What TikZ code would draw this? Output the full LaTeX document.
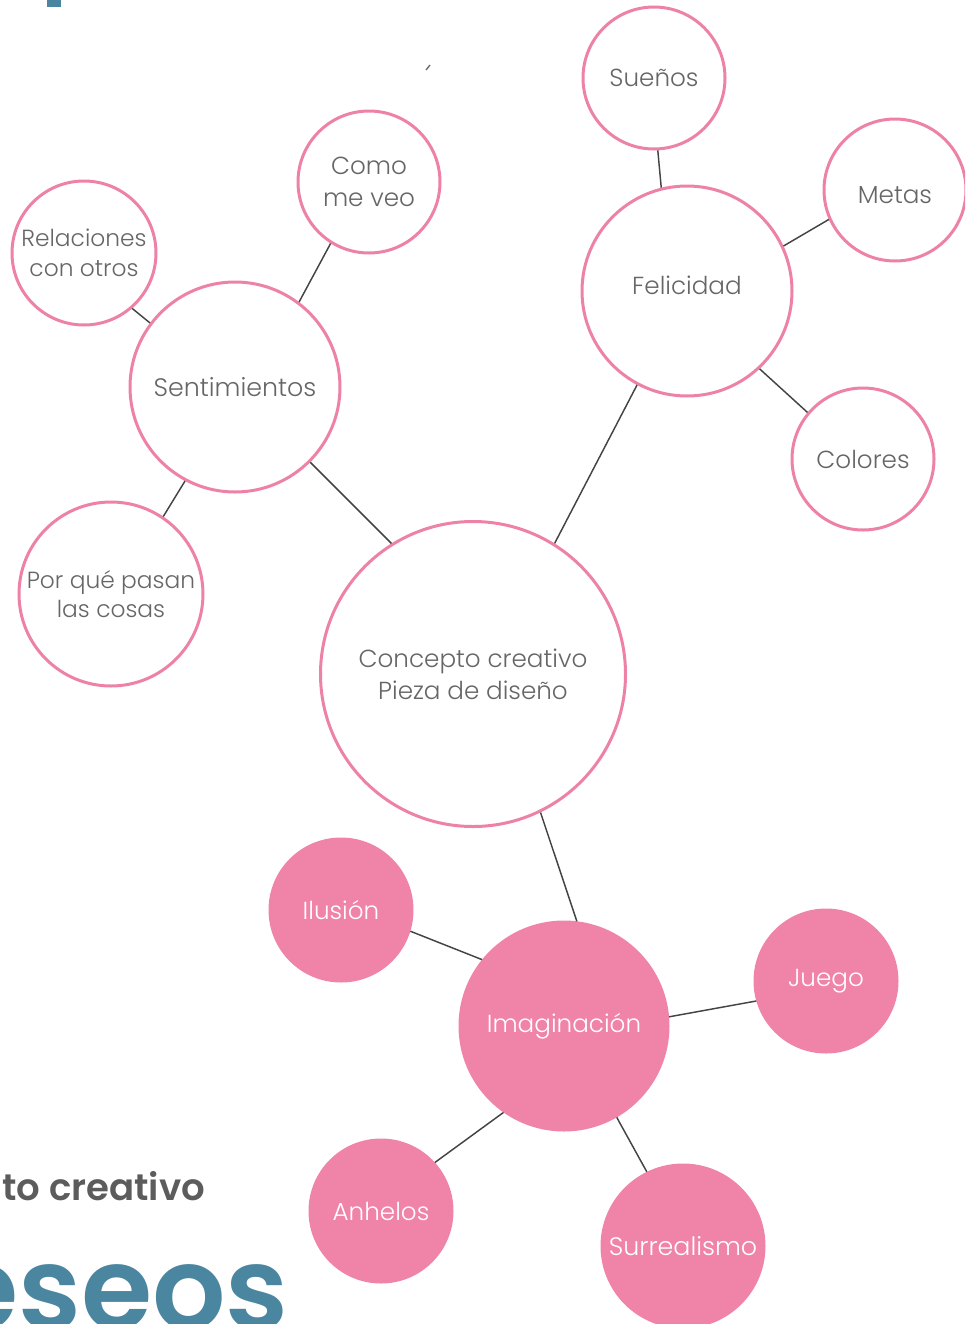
\documentclass[tikz,border=0pt]{standalone}
\usepackage{fontspec}
\setmainfont{Poppins}[UprightFont=*-Light,BoldFont=*-SemiBold]
\definecolor{rosa}{HTML}{EE82A6}
\definecolor{rosafill}{HTML}{F084A8}
\definecolor{gris}{HTML}{666666}
\definecolor{linea}{HTML}{444444}
\definecolor{azul}{HTML}{4A86A0}
\tikzset{
  burbuja/.style={circle,draw=rosa,line width=2.25pt,fill=white,inner sep=0pt,
    text=gris,align=center,font=\fontsize{18.5}{24}\selectfont},
  llena/.style={burbuja,fill=rosafill,draw=rosafill,text=white},
  rama/.style={draw=linea,line width=1.1pt}
}
\begin{document}
\begin{tikzpicture}[x=0.75pt,y=-0.75pt]
	\useasboundingbox (0,0) rectangle (965,1324);
	\clip (0,0) rectangle (965,1324);
	% centro
	\node[burbuja,minimum size=228.75pt] (con) at (473,674) {Concepto creativo\\Pieza de diseño};
	% sentimientos
	\node[burbuja,minimum size=157.5pt,font=\fontsize{19}{24}\selectfont] (sen) at (235,387) {Sentimientos};
	\node[burbuja,minimum size=108pt,font=\fontsize{17.5}{22.5}\selectfont] (rel) at (84,253) {Relaciones\\con otros};
	\node[burbuja,minimum size=106.5pt] (como) at (369,182) {Como\\me veo};
	\node[burbuja,minimum size=138pt,font=\fontsize{17.5}{22}\selectfont] (pq) at (111,594) {Por qué pasan\\las cosas};
	% felicidad
	\node[burbuja,minimum size=157.5pt] (fel) at (687,291) {\raisebox{4pt}[\height][\depth]{Felicidad}};
	\node[burbuja,minimum size=106.5pt] (sue) at (654,78) {Sueños};
	\node[burbuja,minimum size=106.5pt] (met) at (895,190) {\raisebox{-4pt}[\height][\depth]{Metas}};
	\node[burbuja,minimum size=106.5pt] (col) at (863,459) {Colores};
	% imaginacion
	\node[llena,minimum size=156pt] (ima) at (564,1026) {Imaginación};
	\node[llena,minimum size=106.5pt] (ilu) at (341,910) {Ilusión};
	\node[llena,minimum size=106.5pt] (jue) at (826,981) {Juego};
	\node[llena,minimum size=106.5pt] (anh) at (381,1211) {Anhelos};
	\node[llena,minimum size=121.5pt,font=\fontsize{19}{24}\selectfont] (sur) at (683,1246) {Surrealismo};
	% ramas
	\draw[rama] (sen.-45) -- (con.122);
	\draw[rama] (fel.242) -- (con.58);
	\draw[rama] (con.-64) -- (ima.83);
	\draw[rama] (rel.-49) -- (sen.143);
	\draw[rama] (como.238) -- (sen.53);
	\draw[rama] (pq.56) -- (sen.-118);
	\draw[rama] (sue.-87) -- (fel.104);
	\draw[rama] (met.204) -- (fel.25);
	\draw[rama] (col.140) -- (fel.-47);
	\draw[rama] (ilu.-17) -- (ima.141);
	\draw[rama] (jue.196) -- (ima.5);
	\draw[rama] (anh.42) -- (ima.-125);
	\draw[rama] (sur.116) -- (ima.-60);
	% restos de pagina
	\fill[azul] (47,0) rectangle (61,7);
	\draw[gris,line width=1pt] (426,70) -- (430,65);
	\node[anchor=base west,inner sep=0pt,text=gris!90!black,font=\fontsize{27.8}{30}\selectfont\bfseries] (sub) at (2,1200) {to creativo};
	\node[anchor=base east,inner sep=0pt,text=azul,font=\fontsize{86.5}{95}\selectfont\bfseries] (tit) at (289,1329) {eseos};
\end{tikzpicture}
\end{document}
